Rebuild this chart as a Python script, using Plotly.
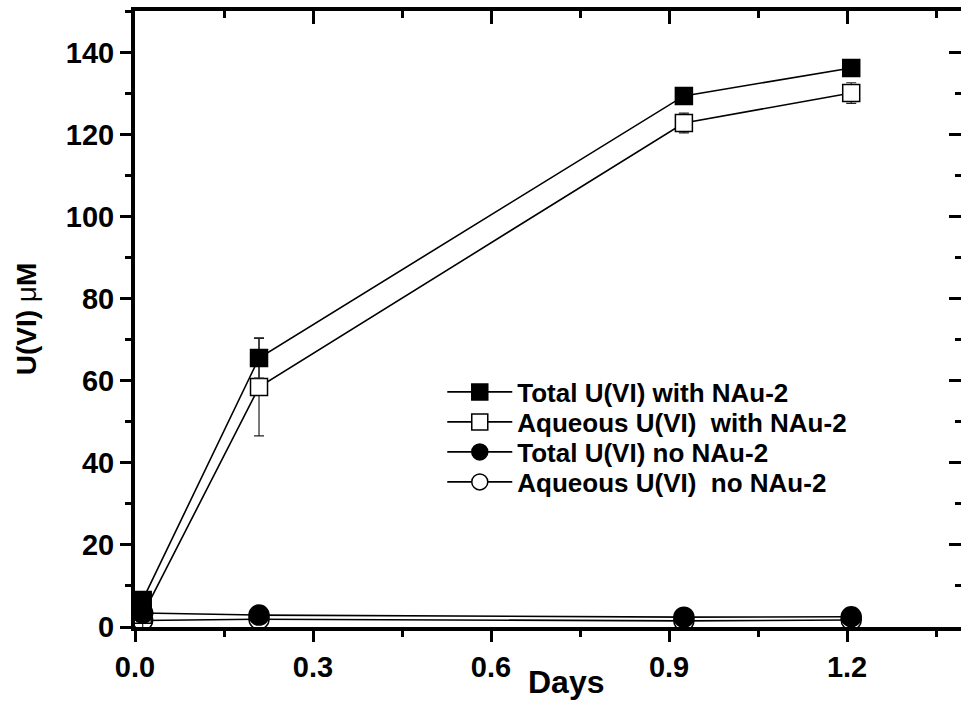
import plotly.graph_objects as go

days = [0.013, 0.209, 0.925, 1.207]
total_with = [6.6, 65.6, 129.5, 136.3]
total_with_err = [1.0, 4.9, 0.8, 0.8]
aqueous_with = [3.0, 58.5, 122.9, 130.2]
aqueous_with_err = [5.5, 11.9, 2.4, 2.5]
total_no = [3.4, 2.9, 2.4, 2.5]
aqueous_no = [1.6, 1.9, 1.5, 1.7]

x_ticks = [0.0, 0.3, 0.6, 0.9, 1.2]
x_ticklabels = ["0.0", "0.3", "0.6", "0.9", "1.2"]
y_ticks = [0, 20, 40, 60, 80, 100, 120, 140]

FONT = "Liberation Sans, Arial, sans-serif"
XR = [0, 1.392]
YR = [0, 150.2]

fig = go.Figure()

def add(name, y, symbol, fill, size, legend, err=None):
    fig.add_trace(go.Scatter(
        x=days, y=y, name=name, mode="lines+markers",
        line=dict(color="black", width=1.6),
        marker=dict(symbol=symbol, size=size, color=fill,
                    line=dict(color="black", width=1.5)),
        error_y=(dict(type="data", array=err, visible=True, color="#222222",
                      thickness=1.2, width=5) if err is not None else None),
        legend=legend,
    ))

add("Aqueous U(VI)  no NAu-2", aqueous_no, "circle", "white", 20, "legend4")
add("Aqueous U(VI)  with NAu-2", aqueous_with, "square", "white", 17, "legend2", aqueous_with_err)
add("Total U(VI) no NAu-2", total_no, "circle", "black", 20, "legend3")
add("Total U(VI) with NAu-2", total_with, "square", "black", 17, "legend", total_with_err)

# invisible trace so the mirrored (top / right) axes are drawn
fig.add_trace(go.Scatter(x=days, y=total_with, xaxis="x2", yaxis="y2",
                         mode="markers", marker=dict(opacity=0),
                         showlegend=False, hoverinfo="skip"))

def leg(yc):
    return dict(x=0.372, y=yc, xanchor="left", yanchor="middle",
                bgcolor="rgba(0,0,0,0)", borderwidth=0,
                font=dict(size=26, family=FONT, weight="bold", color="black"),
                itemwidth=65)

fig.update_layout(
    width=961, height=710,
    margin=dict(l=135, r=0, t=11, b=83),
    paper_bgcolor="white", plot_bgcolor="white",
    font=dict(family=FONT, size=29, color="black", weight="bold"),
    showlegend=True,
    legend=leg(0.3815), legend2=leg(0.3328), legend3=leg(0.2841), legend4=leg(0.2354),
    xaxis=dict(range=XR, tickvals=x_ticks, ticktext=x_ticklabels,
               ticks="outside", ticklen=11, tickwidth=3, tickcolor="black",
               showline=True, linewidth=4, linecolor="black",
               showgrid=False, zeroline=False,
               minor=dict(ticks="outside", dtick=0.15, tick0=0, ticklen=6,
                          tickwidth=3, tickcolor="black", showgrid=False),
               tickfont=dict(size=29, family=FONT, weight="bold")),
    yaxis=dict(range=YR, tickvals=y_ticks,
               ticks="outside", ticklen=11, tickwidth=3, tickcolor="black",
               showline=True, linewidth=4, linecolor="black",
               showgrid=False, zeroline=False,
               minor=dict(ticks="outside", dtick=10, tick0=0, ticklen=6,
                          tickwidth=3, tickcolor="black", showgrid=False),
               tickfont=dict(size=29, family=FONT, weight="bold"),
               title=dict(text="U(VI) <span style='font-weight:normal'>μ</span>M",
                          font=dict(size=28, family=FONT, weight="bold"),
                          standoff=22)),
    xaxis2=dict(range=XR, overlaying="x", side="top", anchor="y2",
                tickvals=x_ticks, showticklabels=False,
                ticks="inside", ticklen=13, tickwidth=3, tickcolor="black",
                showline=True, linewidth=4, linecolor="black",
                showgrid=False, zeroline=False,
                minor=dict(ticks="inside", dtick=0.15, tick0=0, ticklen=7,
                           tickwidth=3, tickcolor="black", showgrid=False)),
    yaxis2=dict(range=YR, overlaying="y", side="right", anchor="x2",
                tickvals=y_ticks, showticklabels=False,
                ticks="inside", ticklen=12, tickwidth=3, tickcolor="black",
                showline=False, showgrid=False, zeroline=False,
                minor=dict(ticks="inside", dtick=10, tick0=0, ticklen=6,
                           tickwidth=3, tickcolor="black", showgrid=False)),
    annotations=[dict(text="Days", xref="paper", yref="paper",
                      x=0.523, y=-0.09, xanchor="center", yanchor="middle",
                      showarrow=False,
                      font=dict(size=32, family=FONT, weight="bold"))],
)

fig.write_html("out.html", config={"displayModeBar": False},
               post_script="document.body.style.margin='0';document.body.style.overflow='hidden';")
